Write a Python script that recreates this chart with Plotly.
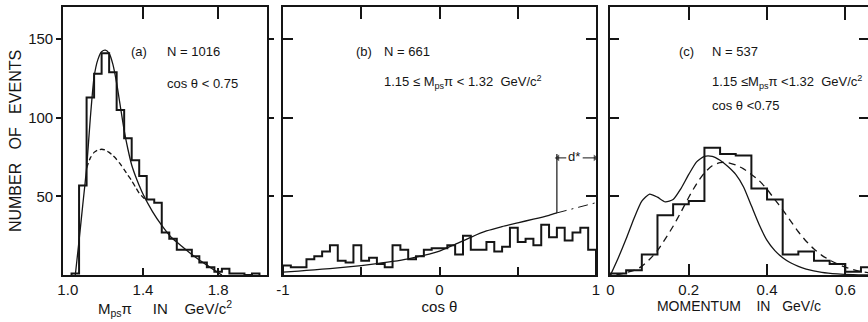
import plotly.graph_objects as go

W, H = 868, 322
INK = "#151515"
FONT = "Liberation Sans, Arial, sans-serif"

# ---------------- data ----------------
# panel (a): M(ps pi) distribution
a_bin_lo = [1.02, 1.06, 1.10, 1.14, 1.18, 1.22, 1.26, 1.30, 1.34, 1.38, 1.42, 1.46, 1.50,
            1.54, 1.58, 1.62, 1.66, 1.70, 1.74, 1.78, 1.82, 1.86, 1.90, 1.94, 1.98]
a_bin_width = 0.04
a_counts = [1, 57, 113, 128, 141, 129, 105, 87, 73, 63, 48, 46, 27,
            23, 16, 16, 12, 8, 5, 2, 4, 1, 1, 0, 1]
a_fit_x = [1.04, 1.06, 1.08, 1.10, 1.12, 1.14, 1.16, 1.18, 1.20, 1.22, 1.24, 1.26, 1.28,
           1.30, 1.32, 1.34, 1.36, 1.38, 1.40, 1.45, 1.50, 1.55, 1.60, 1.65, 1.70, 1.75,
           1.80, 1.82]
a_fit_y = [0, 22, 45, 68, 100, 126, 137, 142, 143, 141, 134, 122, 107,
           92, 80, 70, 63, 57, 51.5, 40.5, 31.5, 24, 19, 14, 9.5, 5.5,
           1.5, 0]
a_bg_x = [1.10, 1.12, 1.14, 1.16, 1.18, 1.20, 1.22, 1.24, 1.26, 1.28, 1.30, 1.32, 1.34,
          1.36, 1.38, 1.40, 1.42]
a_bg_y = [68, 74.5, 78, 79.5, 80, 79.5, 78, 76, 73.5, 70.5, 67, 63.5, 60,
          56, 52, 49.5, 47]

# panel (b): cos theta distribution
b_bin_lo = [-1.00, -0.95, -0.90, -0.85, -0.80, -0.75, -0.70, -0.65, -0.60, -0.55,
            -0.50, -0.45, -0.40, -0.35, -0.30, -0.25, -0.20, -0.15, -0.10, -0.05,
            0.00, 0.05, 0.10, 0.15, 0.20, 0.25, 0.30, 0.35, 0.40, 0.45,
            0.50, 0.55, 0.60, 0.65, 0.70, 0.75, 0.80, 0.85, 0.90, 0.95]
b_bin_width = 0.05
b_counts = [6, 5, 5, 10, 12, 15, 19, 9, 8, 19,
            9, 11, 7, 5, 19, 16, 10, 12, 16, 17,
            17, 19, 13, 25, 16, 16, 21, 15, 18, 30,
            21, 23, 19, 32, 24, 30, 22, 27, 30, 16]
b_fit_x = [-1.0, -0.9, -0.8, -0.7, -0.6, -0.5, -0.4, -0.3, -0.2, -0.1, 0.0,
           0.1, 0.2, 0.3, 0.4, 0.5, 0.6, 0.7, 0.75]
b_fit_y = [1.8, 2.5, 3.3, 4.1, 5.0, 6.0, 7.2, 8.6, 10.3, 12.5, 15.2,
           19.5, 24.0, 28.0, 30.8, 33.2, 35.5, 38.0, 39.5]
b_ext_x = [0.75, 0.80, 0.90, 1.00]
b_ext_y = [39.5, 40.8, 43.3, 46.0]
d_star_cut = 0.75
d_star_top = 77
d_star_label_x = 0.86
d_star_label_y = 75.5
d_star_arrow_y = 74.5
d_star_left_arrow = [0.81, 0.755]
d_star_right_arrow = [0.915, 0.995]

# panel (c): momentum distribution
c_bin_lo = [0.00, 0.04, 0.08, 0.12, 0.16, 0.20, 0.24, 0.28, 0.32, 0.36, 0.40,
            0.44, 0.48, 0.52, 0.56, 0.60, 0.64]
c_bin_width = 0.04
c_counts = [1, 3, 13, 38, 45, 47, 81, 77, 76, 55, 48, 13, 15, 9, 7, 2, 5]
c_fit_x = [0.00, 0.02, 0.04, 0.06, 0.08, 0.10, 0.12, 0.14, 0.16, 0.18, 0.20, 0.22,
           0.24, 0.26, 0.28, 0.30, 0.32, 0.34, 0.36, 0.38, 0.40, 0.42, 0.44, 0.46,
           0.48, 0.50, 0.54, 0.58, 0.62, 0.66]
c_fit_y = [0, 11, 23, 36, 47, 51.5, 49.5, 46.5, 48, 55, 64, 72,
           75.5, 75.5, 73, 69, 64, 56, 44, 32, 22, 15.5, 11, 7.8,
           5.5, 3.8, 1.7, 0.7, 0.2, 0]
c_bg_x = [0.015, 0.04, 0.06, 0.08, 0.10, 0.12, 0.14, 0.16, 0.18, 0.20, 0.22, 0.24,
          0.26, 0.28, 0.30, 0.32, 0.34, 0.36, 0.38, 0.40, 0.42, 0.44, 0.46, 0.48,
          0.50, 0.52, 0.54, 0.56, 0.58, 0.60, 0.62, 0.64, 0.66]
c_bg_y = [0, 1.5, 3, 5.5, 10, 15.5, 23, 31, 40, 49.5, 58, 65,
          69.5, 71.5, 71.5, 70, 67.5, 64, 60, 54.5, 48, 41.5, 34.5, 27.5,
          21.5, 16.5, 12.5, 9.5, 7, 5, 3.5, 2.2, 1.4]

# axes / ticks
y_range = [0, 170.5]
y_tick_vals = [50, 100, 150]
a_range = [0.9745, 2.06]
a_tick_vals = [1.0, 1.4, 1.8]
a_tick_text = ["1.0", "1.4", "1.8"]
a_mark_vals = [1.4, 1.8]
b_range = [-1.0, 1.0]
b_tick_vals = [-1, 0, 1]
b_tick_text = ["-1", "0", "1"]
b_mark_vals = [-0.5, 0, 0.5]
c_range = [-0.0013, 0.658]
c_tick_vals = [0, 0.2, 0.4, 0.6]
c_tick_text = ["0", "0.2", "0.4", "0.6"]
c_mark_vals = [0.2, 0.4, 0.6]


def px_x(p):
    return p / W


def px_y(p):
    return 1 - p / H


def steps(lo, width, counts):
    xs, ys = [lo[0]], [0]
    for l, c in zip(lo, counts):
        xs += [l, l + width]
        ys += [c, c]
    xs.append(lo[-1] + width)
    ys.append(0)
    return xs, ys


fig = go.Figure()

HIST = dict(color=INK, width=2)
FIT = dict(color=INK, width=1.3)

# panel a
hx, hy = steps(a_bin_lo, a_bin_width, a_counts)
fig.add_trace(go.Scatter(x=hx, y=hy, mode="lines", line=HIST, xaxis="x", yaxis="y"))
fig.add_trace(go.Scatter(x=a_fit_x, y=a_fit_y, mode="lines", line=dict(FIT, shape="spline", smoothing=0.6), xaxis="x", yaxis="y"))
fig.add_trace(go.Scatter(x=a_bg_x, y=a_bg_y, mode="lines", line=dict(FIT, dash="5px,3px", shape="spline", smoothing=0.6), xaxis="x", yaxis="y"))

# panel b
hx, hy = steps(b_bin_lo, b_bin_width, b_counts)
fig.add_trace(go.Scatter(x=hx, y=hy, mode="lines", line=HIST, xaxis="x2", yaxis="y2"))
fig.add_trace(go.Scatter(x=b_fit_x, y=b_fit_y, mode="lines", line=dict(FIT, shape="spline", smoothing=0.6), xaxis="x2", yaxis="y2"))
fig.add_trace(go.Scatter(x=b_ext_x, y=b_ext_y, mode="lines", line=dict(color=INK, width=1, dash="10px,5px,2px,5px"), xaxis="x2", yaxis="y2"))
fig.add_trace(go.Scatter(x=[d_star_cut, d_star_cut], y=[b_fit_y[-1], d_star_top], mode="lines",
                         line=dict(color=INK, width=1.2), xaxis="x2", yaxis="y2"))
for seg, sym in [(d_star_left_arrow, "triangle-left"), (d_star_right_arrow, "triangle-right")]:
    fig.add_trace(go.Scatter(x=seg, y=[d_star_arrow_y, d_star_arrow_y], mode="lines+markers",
                             line=dict(color=INK, width=1),
                             marker=dict(symbol=["line-ns", sym], size=[0, 6], color=INK,
                                         line=dict(width=0)),
                             xaxis="x2", yaxis="y2"))

# panel c
hx, hy = steps(c_bin_lo, c_bin_width, c_counts)
fig.add_trace(go.Scatter(x=hx, y=hy, mode="lines", line=HIST, xaxis="x3", yaxis="y3"))
fig.add_trace(go.Scatter(x=c_fit_x, y=c_fit_y, mode="lines", line=dict(FIT, shape="spline", smoothing=0.6), xaxis="x3", yaxis="y3"))
fig.add_trace(go.Scatter(x=c_bg_x, y=c_bg_y, mode="lines", line=dict(FIT, dash="7px,5px", shape="spline", smoothing=0.6), xaxis="x3", yaxis="y3"))

# invisible traces so that the overlay tick axes are drawn
for xa, ya, rng in [("x4", "y", a_range), ("x5", "y", a_range), ("x6", "y2", b_range),
                    ("x7", "y3", c_range), ("x8", "y2", b_range)]:
    fig.add_trace(go.Scatter(x=[rng[0]], y=[-10], mode="markers", marker=dict(opacity=0),
                             xaxis=xa, yaxis=ya, hoverinfo="skip"))

ydom = [px_y(275), px_y(7)]
doms = {"a": [px_x(63), px_x(267)], "b": [px_x(283), px_x(596)], "c": [px_x(610), 1.0]}

base = dict(showgrid=False, zeroline=False, showline=True, linecolor=INK, linewidth=1.6,
            tickcolor=INK, tickwidth=1.5, tickfont=dict(family=FONT, size=15, color=INK),
            automargin=False, fixedrange=True)


def xmain(dom, rng, vals, text, ticks, tlen, anchor, title, tsize):
    return dict(base, domain=dom, range=rng, tickmode="array", tickvals=vals, ticktext=text,
                ticks=ticks, ticklen=tlen, mirror=True, anchor=anchor,
                title=dict(text=title, font=dict(family=FONT, size=tsize, color=INK), standoff=2))


def xmarks(over, anchor, rng, vals, side, tlen):
    return dict(showgrid=False, zeroline=False, showline=False, overlaying=over, anchor=anchor,
                side=side, range=rng, tickmode="array", tickvals=vals, ticks="inside",
                ticklen=tlen, tickwidth=1.5, tickcolor=INK, showticklabels=False,
                automargin=False, fixedrange=True)


def ymain(dom, anchor, ticks, tlen, labels):
    return dict(base, domain=dom, range=y_range, tickmode="array", tickvals=y_tick_vals,
                ticks=ticks, ticklen=tlen, mirror="ticks", anchor=anchor,
                showticklabels=labels)


yaxis_a = ymain(ydom, "x", "outside", 5, True)
yaxis_a["title"] = dict(text="NUMBER&nbsp;&nbsp;&nbsp;OF&nbsp;&nbsp;&nbsp;EVENTS",
                        font=dict(family=FONT, size=16, color=INK), standoff=3)

fig.update_layout(
    width=W, height=H, margin=dict(l=0, r=0, t=0, b=0), autosize=False,
    template="none", paper_bgcolor="white", plot_bgcolor="white", showlegend=False,
    xaxis=xmain(doms["a"], a_range, a_tick_vals, a_tick_text, "", 0, "y",
                "M<sub>ps</sub>π&nbsp;&nbsp;&nbsp;&nbsp;&nbsp;IN&nbsp;&nbsp;&nbsp;&nbsp;GeV/c<sup>2</sup>", 15),
    yaxis=yaxis_a,
    xaxis2=xmain(doms["b"], b_range, b_tick_vals, b_tick_text, "", 0, "y2", "cos θ", 15),
    yaxis2=ymain(ydom, "x2", "inside", 10, False),
    xaxis3=xmain(doms["c"], c_range, c_tick_vals, c_tick_text, "inside", 11, "y3",
                 "MOMENTUM&nbsp;&nbsp;&nbsp;&nbsp;IN&nbsp;&nbsp;&nbsp;GeV/c", 14),
    yaxis3=ymain(ydom, "x3", "inside", 9, False),
    xaxis4=xmarks("x", "y", a_range, a_mark_vals, "bottom", 7),
    xaxis5=xmarks("x", "y", a_range, a_mark_vals, "top", 12),
    xaxis6=xmarks("x2", "y2", b_range, b_mark_vals, "top", 12),
    xaxis7=xmarks("x3", "y3", c_range, c_mark_vals, "top", 13),
    xaxis8=xmarks("x2", "y2", b_range, b_mark_vals, "bottom", 8),
)


def note(text, px, py, size=13):
    fig.add_annotation(text=text, x=px_x(px), y=px_y(py), xref="paper", yref="paper",
                       xanchor="left", yanchor="middle", showarrow=False,
                       font=dict(family=FONT, size=size, color=INK))


note("(a)", 129, 52)
note("N = 1016", 165, 52)
note("cos θ < 0.75", 165, 83)
note("(b)", 354, 52)
note("N = 661", 382, 52)
note("1.15 ≤ M<sub>ps</sub>π < 1.32&nbsp;&nbsp;GeV/c<sup>2</sup>", 382, 82)
note("(c)", 677, 52)
note("N = 537", 710, 52)
note("1.15 ≤M<sub>ps</sub>π <1.32&nbsp;&nbsp;GeV/c<sup>2</sup>", 710, 82)
note("cos θ <0.75", 710, 105)

# d* label in panel b
fig.add_annotation(text="d*", x=d_star_label_x, y=d_star_label_y, xref="x2", yref="y2",
                   showarrow=False, font=dict(family=FONT, size=13, color=INK))

fig.write_html("out.html")
